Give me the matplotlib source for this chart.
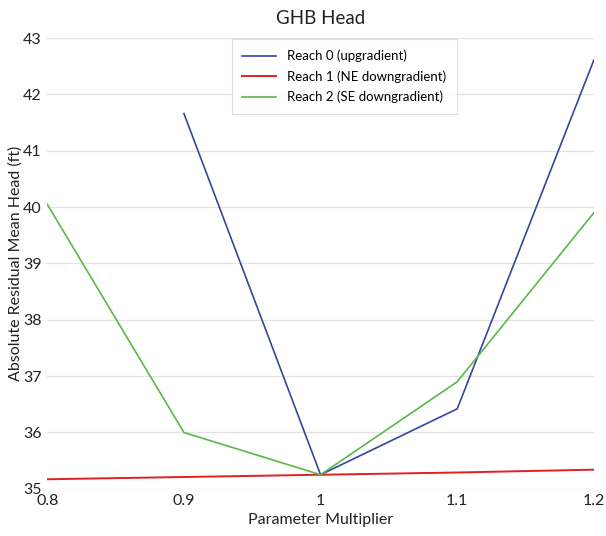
import matplotlib
matplotlib.use("Agg")
import matplotlib.pyplot as plt

plt.rcParams['font.family'] = ['Lato', 'DejaVu Sans']

multiplier = [0.8, 0.9, 1.0, 1.1, 1.2]
reach0 = [None, 41.66, 35.25, 36.42, 42.61]
reach1 = [35.17, 35.21, 35.25, 35.29, 35.34]
reach2 = [40.05, 36.0, 35.25, 36.9, 39.9]
series_labels = ["Reach 0 (upgradient)", "Reach 1 (NE downgradient)", "Reach 2 (SE downgradient)"]
x_ticks = [0.8, 0.9, 1.0, 1.1, 1.2]
x_tick_labels = ["0.8", "0.9", "1", "1.1", "1.2"]
y_ticks = [35, 36, 37, 38, 39, 40, 41, 42, 43]

fig = plt.figure(figsize=(6.06, 5.36), dpi=100)
ax = fig.add_axes([0.078, 0.088, 0.902, 0.841])

x0 = [x for x, v in zip(multiplier, reach0) if v is not None]
y0 = [v for v in reach0 if v is not None]
ax.plot(x0, y0, color="#3346a0", lw=1.2, label=series_labels[0])
ax.plot(multiplier, reach1, color="#e2201f", lw=1.4, label=series_labels[1])
ax.plot(multiplier, reach2, color="#5ab848", lw=1.2, label=series_labels[2])

ax.set_xlim(0.8, 1.2)
ax.set_ylim(35, 43)
ax.set_xticks(x_ticks)
ax.set_xticklabels(x_tick_labels)
ax.set_yticks(y_ticks)
ax.grid(axis="y", color="#e3e3e3", lw=0.9)
ax.set_axisbelow(True)
for s in ax.spines.values():
    s.set_visible(False)
ax.tick_params(length=0, labelsize=11.5, colors="#222222", pad=4)

ax.set_title("GHB Head", fontsize=13.5, color="#222222", pad=10)
ax.set_xlabel("Parameter Multiplier", fontsize=11.5, color="#222222", labelpad=3)
ax.set_ylabel("Absolute Residual Mean Head (ft)", fontsize=11.5, color="#222222", labelpad=0)

leg = ax.legend(loc="upper left", bbox_to_anchor=(0.325, 1.012), fontsize=9.5,
                frameon=True, fancybox=False, edgecolor="#d8d8d8",
                handlelength=2.6, borderpad=0.8, labelspacing=0.6)
leg.get_frame().set_linewidth(0.8)

fig.savefig("out.png", dpi=100, facecolor="white")
